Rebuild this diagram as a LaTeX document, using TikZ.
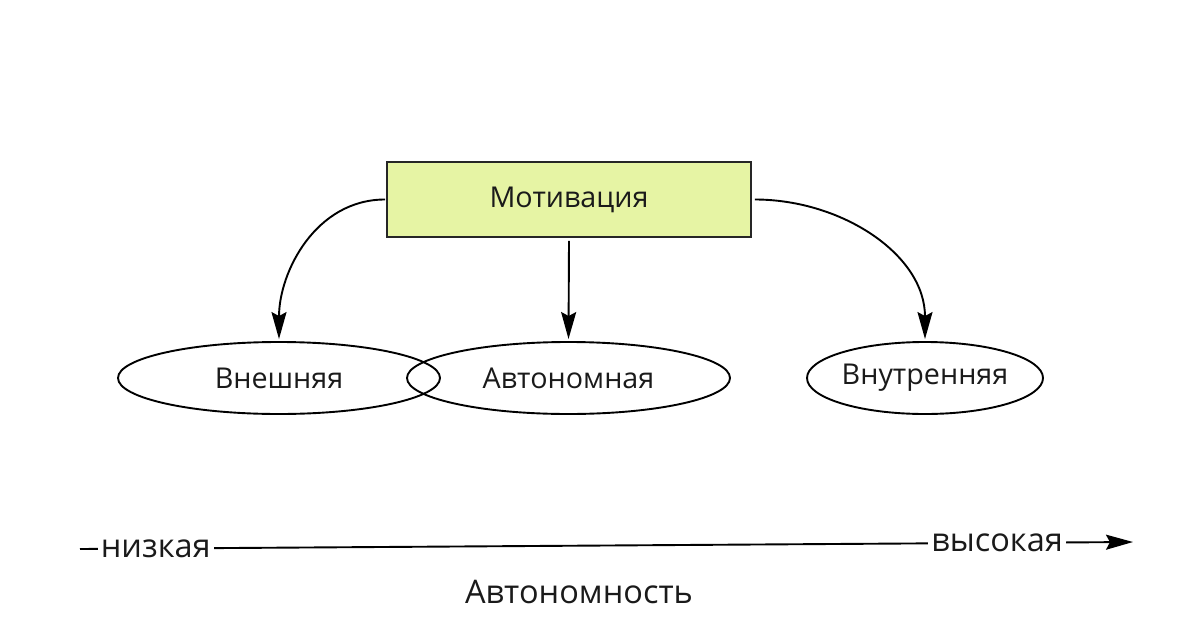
\documentclass[tikz,border=0pt]{standalone}
\usepackage{fontspec}
\setmainfont{Open Sans}
\usetikzlibrary{shapes.geometric,arrows.meta}
\definecolor{boxfill}{HTML}{E6F4A4}
\definecolor{txt}{HTML}{1A1A1A}
\tikzset{
  conn/.style={line width=1.9pt, -{Stealth[length=27pt,width=15pt,inset=4pt]}},
  oval/.style={ellipse, draw, line width=1.9pt, inner sep=0pt, text=txt, font=\fontsize{28.7}{32}\selectfont},
  mainbox/.style={rectangle, draw=black!85, line width=1.9pt, fill=boxfill, inner sep=0pt,
    minimum width=364pt, minimum height=75pt, text=txt, font=\fontsize{28.7}{32}\selectfont},
  axislabel/.style={fill=white, inner sep=3pt, text=txt, font=\fontsize{32.5}{36}\selectfont},
}
\begin{document}
\begin{tikzpicture}[x=1pt,y=-1pt]
\useasboundingbox (0,0) rectangle (1189,640);
\node[mainbox] (mot) at (569,199.5) {Мотивация};
\node[oval, minimum width=322pt, minimum height=72pt] (ext) at (279,378) {Внешняя};
\node[oval, minimum width=323pt, minimum height=72pt] (aut) at (568.5,378) {Автономная};
\node[oval, minimum width=236pt, minimum height=72pt] (int) at (925,378) {Внутренняя};
\draw[conn, shorten >=2pt] ([xshift=-1pt]mot.west) to[out=180,in=90] (ext.north);
\draw[conn, shorten >=2pt] ([yshift=-3pt]mot.south) -- (aut.north);
\draw[conn, shorten >=2pt] ([xshift=3pt]mot.east) to[out=0,in=90] (int.north);
\coordinate (s) at (80,549);
\coordinate (e) at (1133,542);
\draw[conn] (s) -- (e)
  node[axislabel, pos=0.072] (low) {низкая}
  node[axislabel, pos=0.871] (high) {высокая};
\node[text=txt, font=\fontsize{32.5}{36}\selectfont] (axis) at (579,592) {Автономность};
\end{tikzpicture}
\end{document}
